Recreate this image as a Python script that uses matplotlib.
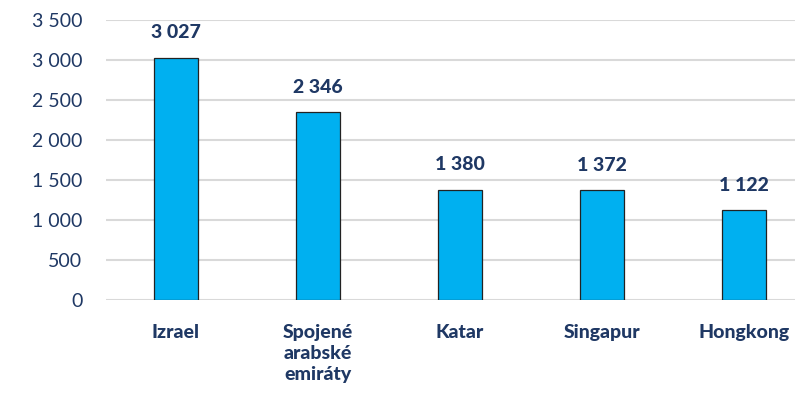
import matplotlib.pyplot as plt
from matplotlib.ticker import FuncFormatter

# Data
countries = ['Izrael', 'Spojené\narabské\nemiráty', 'Katar', 'Singapur', 'Hongkong']
values = [3027, 2346, 1380, 1372, 1122]

navy = '#1F3864'
plt.rcParams['font.family'] = ['Lato', 'DejaVu Sans']

fig = plt.figure(figsize=(7.95, 4.01), dpi=100)
ax = fig.add_axes([106 / 795, 1 - 300 / 401, 1 - 106 / 795, 280 / 401])

x = range(len(countries))
ax.bar(x, values, width=0.31, color='#00B0F0', edgecolor='#222222', linewidth=0.9, zorder=3)

for xi, v in zip(x, values):
    ax.annotate(f'{v:,}'.replace(',', ' '), (xi, v), xytext=(0, 18), textcoords='offset points',
                ha='center', va='center', fontsize=14, fontweight='black', color=navy)

ax.set_ylim(0, 3500)
ax.set_xlim(-0.493, 4.36)
ax.set_yticks(range(0, 3501, 500))
ax.yaxis.set_major_formatter(FuncFormatter(lambda v, p: f'{int(v):,}'.replace(',', ' ')))
ax.set_xticks(list(x))
ax.set_xticklabels(countries, fontsize=14, fontweight='black', color=navy, linespacing=1.3, va='top')
ax.grid(axis='y', color='#D9D9D9', linewidth=1.5, zorder=0)
ax.tick_params(axis='y', length=0, pad=17, labelsize=14, labelcolor=navy)
ax.tick_params(axis='x', length=0, pad=17)
for s in ax.spines.values():
    s.set_visible(False)

plt.savefig('out.png', dpi=100)
